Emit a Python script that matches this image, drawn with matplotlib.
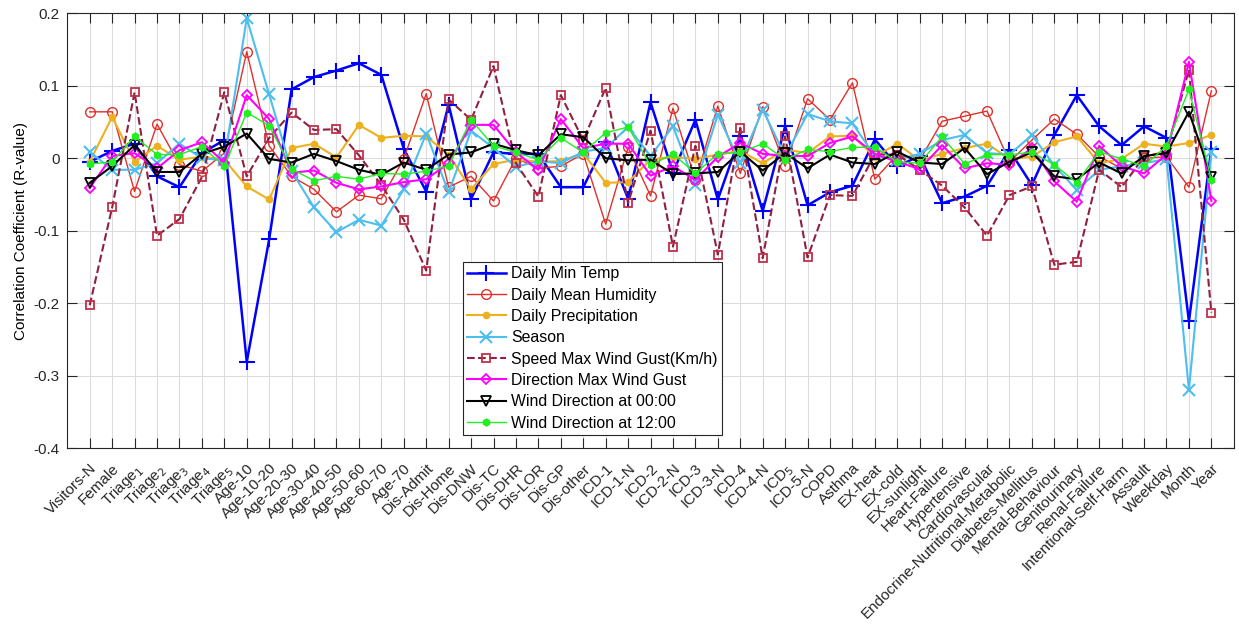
import numpy as np
import matplotlib.pyplot as plt
from matplotlib.transforms import ScaledTranslation

plt.rcParams['font.family'] = ['Liberation Sans', 'DejaVu Sans']
plt.rcParams['axes.unicode_minus'] = False

categories = ['Visitors-N', 'Female', 'Triage$_1$', 'Triage$_2$', 'Triage$_3$', 'Triage$_4$',
              'Triage$_5$', 'Age-10', 'Age-10-20', 'Age-20-30', 'Age-30-40', 'Age-40-50',
              'Age-50-60', 'Age-60-70', 'Age-70', 'Dis-Admit', 'Dis-Home', 'Dis-DNW', 'Dis-TC',
              'Dis-DHR', 'Dis-LOR', 'Dis-GP', 'Dis-other', 'ICD-1', 'ICD-1-N', 'ICD-2',
              'ICD-2-N', 'ICD-3', 'ICD-3-N', 'ICD-4', 'ICD-4-N', 'ICD$_5$', 'ICD-5-N', 'COPD',
              'Asthma', 'EX-heat', 'EX-cold', 'EX-sunlight', 'Heart-Failure', 'Hypertensive',
              'Cardiovascular', 'Endocrine-Nutritional-Metabolic', 'Diabetes-Mellitus',
              'Mental-Behaviour', 'Genitourinary', 'Renal-Failure', 'Intentional-Self-Harm',
              'Assault', 'Weekday', 'Month', 'Year']

min_temp = [-0.005, 0.010, 0.020, -0.025, -0.040, 0.007, 0.025, -0.281, -0.112, 0.095,
            0.112, 0.121, 0.131, 0.115, 0.013, -0.046, 0.074, -0.056, 0.008, 0.006,
            0.006, -0.040, -0.040, 0.022, -0.056, 0.077, -0.020, 0.053, -0.057, 0.031,
            -0.073, 0.044, -0.065, -0.047, -0.038, 0.026, -0.011, 0.003, -0.062, -0.053,
            -0.038, 0.011, -0.037, 0.032, 0.087, 0.044, 0.018, 0.044, 0.028, -0.225, 0.013]

humidity = [0.064, 0.064, -0.046, 0.047, -0.009, -0.018, 0.007, 0.147, 0.017, -0.025,
            -0.043, -0.074, -0.051, -0.056, -0.001, 0.089, -0.040, -0.025, -0.059, 0.000,
            -0.014, -0.011, 0.006, -0.091, 0.015, -0.052, 0.069, -0.030, 0.072, -0.021,
            0.071, -0.011, 0.082, 0.053, 0.104, -0.029, 0.005, -0.003, 0.051, 0.058,
            0.065, -0.005, 0.025, 0.054, 0.033, 0.002, -0.014, 0.000, 0.002, -0.040, 0.093]

precip = [-0.005, 0.057, -0.005, 0.017, -0.002, 0.002, -0.002, -0.039, -0.057, 0.014,
          0.020, 0.001, 0.046, 0.028, 0.031, 0.030, 0.005, -0.043, -0.008, -0.002,
          -0.005, -0.004, 0.007, -0.034, -0.033, -0.002, 0.002, -0.001, 0.005, 0.010,
          -0.007, 0.012, 0.007, 0.030, 0.031, 0.002, 0.020, -0.003, 0.006, 0.014,
          0.020, -0.001, 0.002, 0.022, 0.030, -0.007, -0.001, 0.020, 0.016, 0.021, 0.032]

season = [0.009, -0.016, -0.016, -0.007, 0.020, 0.000, -0.003, 0.193, 0.088, -0.018,
          -0.068, -0.102, -0.085, -0.093, -0.043, 0.034, -0.047, 0.038, 0.014, -0.012,
          -0.004, -0.007, 0.009, 0.014, 0.043, 0.003, 0.044, -0.037, 0.060, -0.007,
          0.067, 0.003, 0.061, 0.051, 0.048, 0.003, -0.002, 0.006, 0.025, 0.032,
          0.007, 0.005, 0.032, -0.010, -0.044, -0.016, -0.011, -0.007, -0.001, -0.320, 0.009]

gust_speed = [-0.203, -0.068, 0.091, -0.107, -0.084, -0.026, 0.091, -0.025, 0.028, 0.063,
              0.039, 0.040, 0.004, -0.037, -0.085, -0.155, 0.081, 0.053, 0.127, -0.007,
              -0.053, 0.087, 0.025, 0.097, -0.062, 0.038, -0.122, 0.017, -0.133, 0.042,
              -0.138, 0.030, -0.137, -0.051, -0.052, 0.005, 0.005, -0.016, -0.038, -0.068,
              -0.107, -0.051, -0.039, -0.147, -0.143, -0.016, -0.040, 0.002, 0.009, 0.122, -0.213]

gust_dir = [-0.041, 0.003, 0.007, -0.014, 0.011, 0.022, -0.006, 0.087, 0.054, -0.020,
            -0.017, -0.034, -0.043, -0.039, -0.033, -0.029, -0.007, 0.046, 0.046, 0.008,
            -0.016, 0.054, 0.014, 0.020, 0.020, -0.024, -0.011, -0.030, 0.002, 0.021,
            0.006, 0.003, 0.003, 0.021, 0.030, 0.006, -0.005, -0.015, 0.018, -0.014,
            -0.007, -0.009, 0.014, -0.032, -0.060, 0.017, -0.011, -0.021, 0.005, 0.133, -0.059]

wind_00 = [-0.034, -0.011, 0.018, -0.019, -0.019, 0.006, 0.016, 0.034, -0.001, -0.006,
           0.006, -0.004, -0.016, -0.023, -0.006, -0.016, 0.005, 0.008, 0.020, 0.011,
           0.004, 0.033, 0.029, 0.000, -0.003, -0.002, -0.022, -0.021, -0.019, 0.009,
           -0.017, 0.007, -0.014, 0.005, -0.006, -0.008, 0.009, -0.006, -0.008, 0.014,
           -0.022, -0.005, 0.008, -0.025, -0.029, -0.006, -0.021, 0.003, 0.007, 0.064, -0.026]

wind_12 = [-0.008, -0.005, 0.030, 0.005, 0.005, 0.016, -0.011, 0.063, 0.045, -0.015,
           -0.031, -0.025, -0.029, -0.021, -0.022, -0.018, -0.011, 0.053, 0.017, 0.008,
           -0.002, 0.028, 0.008, 0.035, 0.043, -0.010, 0.006, -0.021, 0.006, 0.008,
           0.020, -0.002, 0.012, 0.009, 0.015, 0.015, -0.005, -0.007, 0.030, -0.008,
           0.005, 0.005, 0.008, -0.009, -0.034, 0.009, -0.001, -0.011, 0.017, 0.095, -0.030]

x = np.arange(1, len(categories) + 1)

fig = plt.figure(figsize=(12.39, 6.26), dpi=100)
ax = fig.add_axes([0.0543, 0.2843, 0.9415, 0.6945])

ax.plot(x, min_temp, color='#0000FF', marker='+', ms=11, mew=1.5, lw=1.8, label='Daily Min Temp')
ax.plot(x, humidity, color='#E0302B', marker='o', ms=7, mfc='none', mew=1.0, lw=1.0,
        label='Daily Mean Humidity')
ax.plot(x, precip, color='#EDB120', marker='o', ms=4.5, lw=1.5, label='Daily Precipitation')
ax.plot(x, season, color='#4DBEEE', marker='x', ms=8, mew=1.5, lw=1.5, label='Season')
ax.plot(x, gust_speed, color='#8E2040', ls='--', marker='s', ms=5.5, mfc='none',
        mec='#C0304A', mew=1.3, lw=1.5, label='Speed Max Wind Gust(Km/h)')
ax.plot(x, gust_dir, color='#FF00FF', marker='D', ms=5.5, mfc='none', mew=1.3, lw=1.5,
        label='Direction Max Wind Gust')
ax.plot(x, wind_00, color='black', marker='v', ms=7, mfc='none', mew=1.3, lw=1.5,
        label='Wind Direction at 00:00')
ax.plot(x, wind_12, color='#22EE22', marker='h', ms=5, mew=1.0, lw=1.0,
        label='Wind Direction at 12:00')

ax.set_xlim(0, len(categories) + 1)
ax.set_ylim(-0.4, 0.2)
ax.set_xticks(x)
ax.set_xticklabels(categories, rotation=45, ha='right', va='top', rotation_mode='anchor',
                   fontsize=11)
# nudge the slanted labels so they end just right of their tick
shift = ScaledTranslation(12 / 100, 0, fig.dpi_scale_trans)
for lab in ax.get_xticklabels():
    lab.set_transform(lab.get_transform() + shift)
ax.set_yticks(np.arange(-0.4, 0.21, 0.1))
ax.set_yticklabels(['-0.4', '-0.3', '-0.2', '-0.1', '0', '0.1', '0.2'], fontsize=11)
ax.set_ylabel('Correlation Coefficient (R-value)', fontsize=11)
ax.yaxis.set_label_coords(-0.034, 0.5)

ax.grid(True, color='#DCDCDC', lw=0.8)
ax.set_axisbelow(True)
ax.tick_params(direction='in', length=7, top=True, right=True, color='#262626', labelcolor='#262626')
ax.tick_params(axis='x', pad=9.5)
ax.tick_params(axis='y', pad=5.5)
for s in ax.spines.values():
    s.set_color('#262626')
    s.set_linewidth(0.8)

leg = ax.legend(loc='upper left', bbox_to_anchor=(0.3389, 0.4272), fontsize=11.4, frameon=True,
                fancybox=False, edgecolor='#262626', framealpha=1, handlelength=2.5,
                borderpad=0.25, labelspacing=0.4, handletextpad=0.33, borderaxespad=0)
leg.get_frame().set_linewidth(0.8)

fig.savefig('out.png', dpi=100)
